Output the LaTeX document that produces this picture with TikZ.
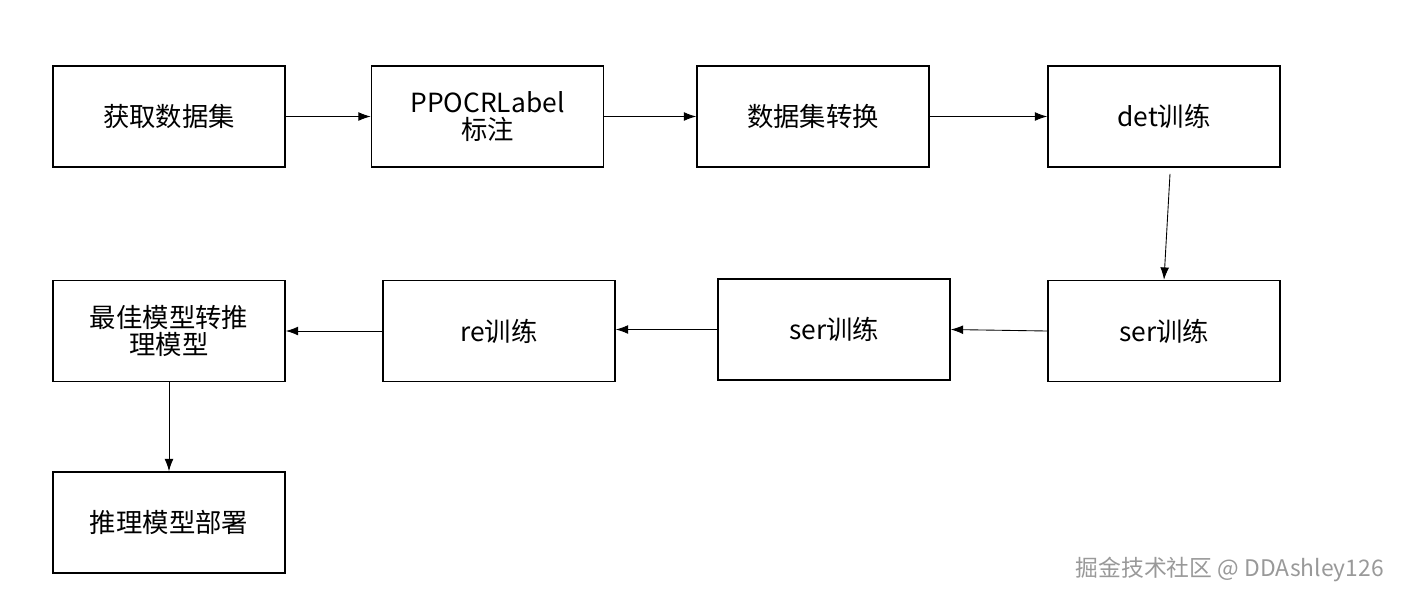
\documentclass[tikz,border=0pt]{standalone}
\usepackage{fontspec}
\setmainfont{Noto Sans CJK SC}
\usetikzlibrary{arrows.meta}
\begin{document}
\begin{tikzpicture}[x=0.02cm,y=-0.02cm,
 box/.style={draw,line width=0.9pt,minimum width=4.64cm,minimum height=2.02cm,align=center,font=\fontsize{15}{18}\selectfont,inner sep=1pt},
 arr/.style={-{Latex[length=7pt,width=5pt]},line width=0.5pt}]
\useasboundingbox (0,0) rectangle (1405,603);
\node[box] (a) at (169,116.5) {获取数据集};
\node[box] (b) at (487.5,116.5) {PPOCRLabel\\[-3pt]标注};
\node[box] (c) at (813,116.5) {数据集转换};
\node[box] (d) at (1164,116.5) {det训练};
\node[box] (e) at (1164,331) {ser训练};
\node[box] (f) at (834,329.5) {ser训练};
\node[box] (g) at (499,331) {re训练};
\node[box] (h) at (169,331) {最佳模型转推\\[-3pt]理模型};
\node[box] (i) at (169,522.5) {推理模型部署};
\draw[arr] (a.east) -- (b.west);
\draw[arr] (b.east) -- (c.west);
\draw[arr] (c.east) -- (d.west);
\draw[arr] ([xshift=0.12cm,yshift=-0.12cm]d.south) -- (e.north);
\draw[arr] (e.west) -- (f.west -| f.east);
\draw[arr] (f.west) -- (g.east |- f.west);
\draw[arr] (g.west) -- (h.east);
\draw[arr] (h.south) -- (i.north);
\node[text=gray!80,font=\fontsize{13}{15}\selectfont,anchor=east] (w) at (1390,569) {掘金技术社区 @ DDAshley126};
\end{tikzpicture}
\end{document}
